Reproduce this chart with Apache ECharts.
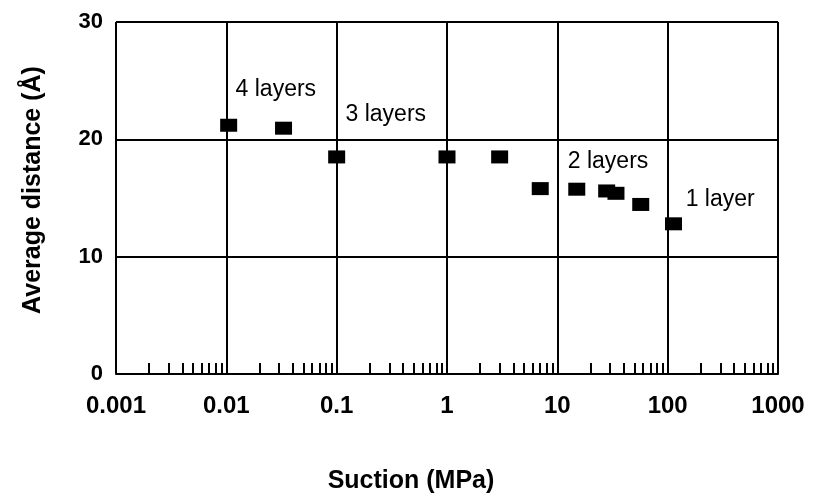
<!DOCTYPE html>
<html>
<head>
<meta charset="utf-8">
<script src="https://cdn.jsdelivr.net/npm/echarts@6/dist/echarts.min.js"></script>
<style>
  html, body { margin: 0; padding: 0; background: #fff; }
  #main { width: 814px; height: 496px; }
</style>
</head>
<body>
<div id="main"></div>
<script>
// measured points: suction (MPa) and average distance (Å)
var suction = [0.0105, 0.033, 0.1, 1, 3, 7, 15, 28, 34, 57, 113];
var distance = [21.2, 20.95, 18.5, 18.5, 18.5, 15.8, 15.75, 15.6, 15.4, 14.45, 12.8];

// layer notes, anchored at the left edge of the text
var noteText = ['4 layers', '3 layers', '2 layers', '1 layer'];
var noteX = [0.012, 0.119, 12.3, 144];
var noteY = [24.2, 22.1, 18.1, 14.9];

var xTickLabels = ['0.001', '0.01', '0.1', '1', '10', '100', '1000'];
var yTicks = [0, 10, 20, 30];

var font = "'Liberation Sans', Arial, sans-serif";

// minor ticks 2..9 in every decade, in log10 space for the helper axis
var minorTicks = [];
for (var d = -3; d < 3; d++) {
  for (var k = 2; k <= 9; k++) minorTicks.push(d + Math.log10(k));
}

var myChart = echarts.init(document.getElementById('main'));

var option = {
  backgroundColor: '#fff',
  animation: false,
  grid: { left: 116, right: 36, top: 22, bottom: 122 },
  xAxis: [{
    type: 'log',
    logBase: 10,
    min: 0.001,
    max: 1000,
    axisLine: { show: true, lineStyle: { color: '#000', width: 2 } },
    axisTick: { show: false },
    splitLine: { show: true, lineStyle: { color: '#000', width: 2 } },
    axisLabel: {
      color: '#000', fontFamily: font, fontSize: 24, fontWeight: 'bold', margin: 20,
      formatter: function (v) { return xTickLabels[Math.round(Math.log10(v)) + 3]; }
    }
  }, {
    type: 'value',
    position: 'bottom',
    min: -3,
    max: 3,
    axisLine: { show: false },
    axisLabel: { show: false },
    splitLine: { show: false },
    axisTick: {
      show: true, inside: true, length: 11,
      customValues: minorTicks,
      lineStyle: { color: '#000', width: 2 }
    }
  }],
  yAxis: {
    type: 'value',
    min: 0,
    max: 30,
    interval: 10,
    axisLine: { show: true, lineStyle: { color: '#000', width: 2 } },
    axisTick: { show: false },
    splitLine: { show: true, lineStyle: { color: '#000', width: 2 } },
    axisLabel: {
      color: '#000', fontFamily: font, fontSize: 22, fontWeight: 'bold', margin: 13,
      formatter: function (v) { return yTicks.indexOf(v) >= 0 ? String(v) : ''; }
    }
  },
  series: [{
    type: 'scatter',
    symbol: 'rect',
    symbolSize: [17, 13],
    itemStyle: { color: '#000', opacity: 1 },
    data: suction.map(function (x, i) { return [x, distance[i]]; }),
    z: 5
  }, {
    type: 'scatter',
    symbolSize: 1,
    itemStyle: { color: '#fff', opacity: 0 },
    label: {
      show: true,
      position: 'right',
      distance: 0,
      color: '#000',
      opacity: 1,
      textBorderWidth: 0,
      fontFamily: font,
      fontSize: 23,
      formatter: function (p) { return noteText[p.dataIndex]; }
    },
    data: noteX.map(function (x, i) { return [x, noteY[i]]; }),
    silent: true,
    z: 6
  }],
  graphic: [{
    type: 'text',
    x: 33,
    y: 190,
    rotation: Math.PI / 2,
    style: {
      text: 'Average distance (Å)',
      font: 'bold 25px ' + font,
      fill: '#000',
      textAlign: 'center',
      textVerticalAlign: 'middle'
    }
  }, {
    type: 'text',
    x: 411,
    y: 481,
    style: {
      text: 'Suction (MPa)',
      font: 'bold 25px ' + font,
      fill: '#000',
      textAlign: 'center',
      textVerticalAlign: 'middle'
    }
  }]
};

myChart.setOption(option);
</script>
</body>
</html>
